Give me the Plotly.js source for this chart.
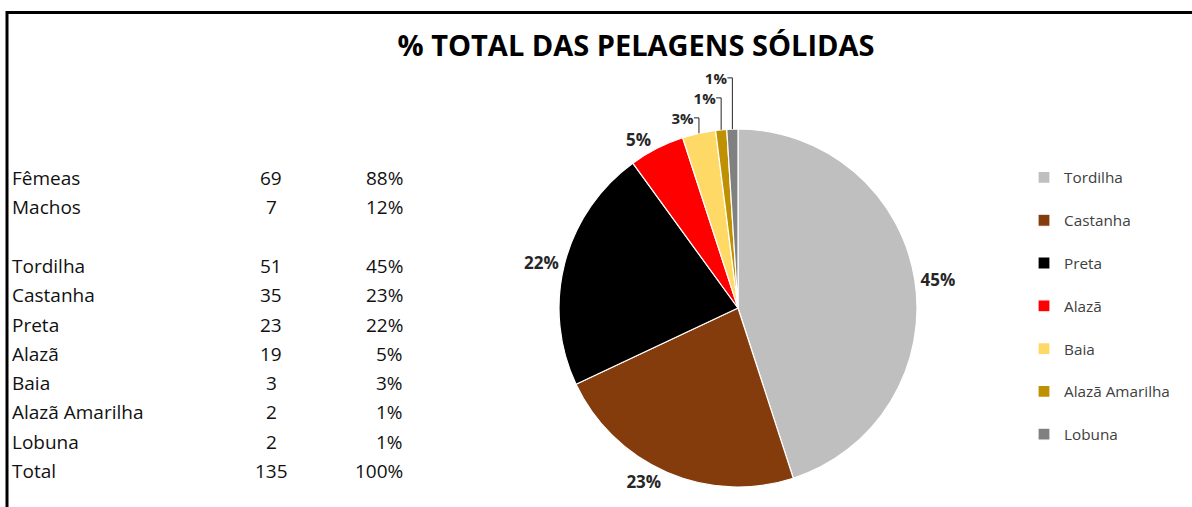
<!DOCTYPE html>
<html>
<head>
<meta charset="utf-8">
<script src="https://cdn.plot.ly/plotly-3.0.1.min.js"></script>
<style>
html,body{margin:0;padding:0;background:#fff;}
#chart{width:1192px;height:507px;}
</style>
</head>
<body>
<div id="chart"></div>
<script>
// ---- data ----
var titleText = "% TOTAL DAS PELAGENS SÓLIDAS";
var sexLabels = ["Fêmeas", "Machos"];
var sexCounts = [69, 7];
var sexPercents = ["88%", "12%"];
var coatLabels = ["Tordilha", "Castanha", "Preta", "Alazã", "Baia", "Alazã Amarilha", "Lobuna"];
var coatCounts = [51, 35, 23, 19, 3, 2, 2];
var coatPercents = [45, 23, 22, 5, 3, 1, 1];
var totalLabel = "Total";
var totalCount = 135;
var totalPercent = "100%";
var coatColors = ["#BFBFBF", "#843C0C", "#000000", "#FF0000", "#FFD966", "#BF9000", "#808080"];

// ---- layout helpers ----
var W = 1192, H = 507;
function px(x){ return x / W; }
function py(y){ return 1 - y / H; }

var tableFont = {family: "Open Sans", size: 19, color: "#111111"};
var annotations = [];
function addRow(y, label, count, pct){
  annotations.push({xref:"paper", yref:"paper", x:px(10), y:py(y), xanchor:"left", yanchor:"middle", text:label, showarrow:false, font:tableFont});
  annotations.push({xref:"paper", yref:"paper", x:px(271), y:py(y), xanchor:"center", yanchor:"middle", text:String(count), showarrow:false, font:tableFont});
  annotations.push({xref:"paper", yref:"paper", x:px(405), y:py(y), xanchor:"right", yanchor:"middle", text:pct, showarrow:false, font:tableFont});
}
var rowY = 178, rowStep = 29.3;
for (var i = 0; i < sexLabels.length; i++) { addRow(rowY, sexLabels[i], sexCounts[i], sexPercents[i]); rowY += rowStep; }
rowY += rowStep;
for (var j = 0; j < coatLabels.length; j++) { addRow(rowY, coatLabels[j], coatCounts[j], coatPercents[j] + "%"); rowY += rowStep; }
addRow(rowY, totalLabel, totalCount, totalPercent);

var legendLabels = coatLabels.map(function(l){ return l + "<br> "; });
// smaller label text for the thin slices so their stacked labels stay below the title
var labelSizes = coatPercents.map(function(v){ return v <= 3 ? 15 : 17; });

var trace = {
  type: "pie",
  labels: legendLabels,
  values: coatPercents,
  sort: false,
  direction: "clockwise",
  rotation: 0,
  marker: {colors: coatColors, line: {color: "#FFFFFF", width: 1.2}},
  texttemplate: "%{value}%",
  textposition: "outside",
  outsidetextfont: {family: "Open Sans", size: labelSizes, color: "#262626", weight: "bold"},
  domain: {x: [px(559), px(917)], y: [py(489), py(127)]},
  hoverinfo: "none"
};

var layout = {
  width: W, height: H,
  margin: {l:0, r:0, t:0, b:0},
  paper_bgcolor: "#FFFFFF",
  showlegend: true,
  title: {
    text: "<b>" + titleText + "</b>",
    x: px(636), y: py(46), xanchor: "center", yanchor: "middle",
    xref: "paper", yref: "paper",
    font: {family: "Open Sans", size: 29, color: "#000000"}
  },
  legend: {
    x: px(1024), y: py(161), xanchor: "left", yanchor: "top",
    font: {family: "Open Sans", size: 15.3, color: "#404040"},
    valign: "top",
    itemwidth: 30,
    bgcolor: "rgba(0,0,0,0)"
  },
  annotations: annotations,
  shapes: [
    {type:"line", xref:"paper", yref:"paper", x0:px(7), x1:1.01, y0:py(12.5), y1:py(12.5), line:{color:"#000", width:3}},
    {type:"line", xref:"paper", yref:"paper", x0:px(7), x1:px(7), y0:py(11), y1:-0.01, line:{color:"#000", width:3}}
  ]
};

Plotly.newPlot("chart", [trace], layout, {displayModeBar: false, staticPlot: true});
</script>
</body>
</html>
